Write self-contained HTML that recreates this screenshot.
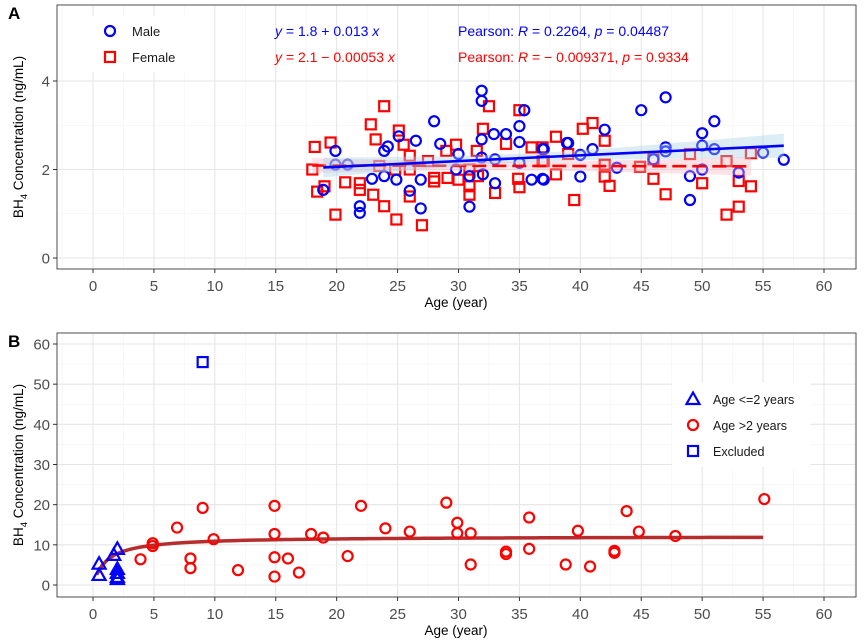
<!DOCTYPE html>
<html><head><meta charset="utf-8"><style>
html,body{margin:0;padding:0;background:#fff;}
svg{display:block;font-family:"Liberation Sans",Arial,sans-serif;}
</style></head><body>
<svg id="chart" width="865" height="644" viewBox="0 0 865 644" xmlns="http://www.w3.org/2000/svg"></svg>
<script>
// ---------- Panel A data ----------
const maleAge = [19.9,19.9,20.9,18.9,21.9,21.9,22.9,23.9,24.2,25.1,23.9,24.9,26.0,26.5,26.9,26.9,28.0,28.5,30.0,29.8,30.9,30.9,31.9,31.9,31.9,31.9,32.0,32.9,33.9,33.0,33.0,35.0,35.0,35.0,35.4,36.0,36.9,36.9,38.9,37.0,37.0,39.0,40.0,40.0,42.0,41.0,43.0,45.0,47.0,47.0,47.0,46.0,49.0,49.0,50.0,50.0,50.0,51.0,51.0,53.0,55.0,56.7];
const maleVal = [2.42,2.11,2.11,1.54,1.17,1.02,1.79,2.42,2.52,2.75,1.85,1.77,1.52,2.65,1.77,1.12,3.09,2.58,2.35,2.00,1.16,1.85,3.78,3.55,2.68,2.27,1.89,2.80,2.80,2.23,1.69,2.98,2.62,2.15,3.34,1.77,1.79,2.46,2.60,2.46,1.77,2.60,2.33,1.84,2.90,2.46,2.04,3.34,3.63,2.50,2.41,2.23,1.85,1.31,2.82,2.54,2.00,3.09,2.46,1.93,2.38,2.22];
const femaleAge = [18.2,19.5,18.0,18.4,19.0,19.9,20.7,21.9,21.9,22.8,23.2,23.9,23.0,23.9,24.9,25.1,25.5,26.0,26.0,26.0,27.0,28.0,28.0,29.1,29.0,29.8,30.0,30.9,30.9,31.6,31.5,32.0,32.5,33.9,34.9,35.0,35.0,36.0,36.9,38.0,38.0,33.0,30.9,23.5,24.8,27.5,36.9,37.0,39.5,40.2,41.0,42.0,42.0,42.0,42.4,44.9,46.0,46.0,47.0,49.0,50.0,52.0,52.0,53.0,53.0,54.0,54.0,39.0];
const femaleVal = [2.51,2.61,2.00,1.50,1.62,0.98,1.71,1.69,1.54,3.02,2.68,3.43,1.43,1.17,0.87,2.88,2.56,2.31,2.00,1.39,0.74,1.81,1.73,1.81,2.42,2.56,1.77,1.62,1.43,1.85,2.42,2.92,3.43,2.58,1.79,1.60,3.34,2.50,2.50,2.74,1.89,1.47,2.00,2.08,2.00,2.19,2.19,2.19,1.31,2.92,3.05,2.65,2.11,1.84,1.63,2.06,2.23,1.79,1.44,2.35,1.69,2.19,0.98,1.16,1.74,1.62,2.37,2.35];
const maleFit = [1.8, 0.013];     // intercept, slope
const femaleFit = [2.1, -0.00053];
const ticksXA = [0,5,10,15,20,25,30,35,40,45,50,55,60];
const ticksYA = [0,2,4];
// ---------- Panel B data ----------
const youngAge = [0.5,0.5,1.7,2.0,2.0,2.0,2.0,2.0];
const youngVal = [5.3,2.5,7.5,9.0,4.0,3.0,2.0,1.5];
const olderAge = [3.9,4.9,4.9,6.9,8.0,8.0,9.0,9.9,11.9,14.9,14.9,14.9,14.9,16.0,16.9,17.9,18.9,20.9,22.0,24.0,26.0,29.0,29.9,29.9,31.0,31.0,33.9,33.9,35.8,35.8,38.8,39.8,40.8,42.8,42.8,43.8,44.8,47.8,55.1];
const olderVal = [6.4,10.4,9.7,14.3,6.6,4.2,19.2,11.4,3.7,19.7,12.7,6.9,2.1,6.6,3.1,12.7,11.8,7.2,19.7,14.1,13.3,20.5,15.5,12.9,12.9,5.1,8.3,7.7,16.8,9.0,5.1,13.5,4.6,8.5,8.0,18.4,13.3,12.2,21.4];
const excludedAge = [9.0];
const excludedVal = [55.5];
const curveParams = [12.1, 1.1]; // saturating fit Vmax, K
const ticksXB = [0,5,10,15,20,25,30,35,40,45,50,55,60];
const ticksYB = [0,10,20,30,40,50,60];

const svg = document.getElementById('chart');
const NS = 'http://www.w3.org/2000/svg';
function mk(tag, attrs, parent){
  const e = document.createElementNS(NS, tag);
  for (const k in attrs) e.setAttribute(k, attrs[k]);
  (parent||svg).appendChild(e);
  return e;
}
function lin(d0,d1,r0,r1){ return v => r0 + (v-d0)*(r1-r0)/(d1-d0); }

function panel(o){
  const g = mk('g', {});
  
  
  const X = lin(0,60,93,824);
  const Y = lin(o.y0v, o.y1v, o.y0p, o.y1p);
  const L=57,R=856,T=o.top,B=o.bottom;
  mk('rect',{x:L,y:T,width:R-L,height:B-T,fill:'#fff'},g);
  // minor grid
  for (let v=-2.5; v<=62.5; v+=5){ const x=X(v); if(x>L&&x<R) mk('line',{x1:x,x2:x,y1:T,y2:B,stroke:'#f2f2f2','stroke-width':0.6},g); }
  for (let i=0;i<o.yt.length-1;i++){ const y=Y((o.yt[i]+o.yt[i+1])/2); mk('line',{x1:L,x2:R,y1:y,y2:y,stroke:'#f2f2f2','stroke-width':0.6},g); }
  // major grid
  o.xt.forEach(v=>{ const x=X(v); mk('line',{x1:x,x2:x,y1:T,y2:B,stroke:'#e6e6e6','stroke-width':1.1},g); });
  o.yt.forEach(v=>{ const y=Y(v); mk('line',{x1:L,x2:R,y1:y,y2:y,stroke:'#e6e6e6','stroke-width':1.1},g); });
  mk('rect',{x:L,y:T,width:R-L,height:B-T,fill:'none',stroke:'#4d4d4d','stroke-width':1},g);
  // ticks and labels
  o.xt.forEach(v=>{
    const x=X(v);
    mk('line',{x1:x,x2:x,y1:B,y2:B+4,stroke:'#333','stroke-width':1},g);
    const t=mk('text',{x:x,y:B+22,'text-anchor':'middle','font-size':15,fill:'#4d4d4d'},g);
    t.textContent=v;
    
    
  });
  o.yt.forEach(v=>{
    const y=Y(v);
    mk('line',{x1:L-4,x2:L,y1:y,y2:y,stroke:'#333','stroke-width':1},g);
    const t=mk('text',{x:L-7,y:y+5.5,'text-anchor':'end','font-size':15,fill:'#4d4d4d'},g);
    t.textContent=v;
    
    
  });
  const xt=mk('text',{x:456,y:B+38,'text-anchor':'middle','font-size':13.5,fill:'#000'},g);
  xt.textContent='Age (year)';
  
  
  const cy=(T+B)/2;
  const yt=mk('text',{x:0,y:0,'text-anchor':'middle','font-size':13.5,fill:'#000',transform:`translate(23,${cy}) rotate(-90)`},g);
  yt.innerHTML='BH<tspan font-size="9.5" dy="4">4</tspan><tspan dy="-4"> Concentration (ng/mL)</tspan>';
  
  
  const pl=mk('text',{x:8,y:T+14,'font-size':17,'font-weight':'bold',fill:'#000'},g);
  pl.textContent=o.letter;
  
  
  return {g,X,Y};
}
function circle(g,x,y,c,name){ const e=mk('circle',{cx:x,cy:y,r:5,fill:'none',stroke:c,'stroke-width':2.2},g);   return e;}
function square(g,x,y,c,name){ const e=mk('rect',{x:x-5,y:y-5,width:10,height:10,fill:'none',stroke:c,'stroke-width':2.2},g);   return e;}
function tri(g,x,y,c,name){ const e=mk('polygon',{points:`${x},${y-6.5} ${x-6.5},${y+5} ${x+6.5},${y+5}`,fill:'none',stroke:c,'stroke-width':2.2},g);   return e;}

// ===== Panel A =====
const A = panel({name:'panel-a',letter:'A',top:5,bottom:269,y0v:0,y1v:4,y0p:258,y1p:81,xt:ticksXA,yt:ticksYA});
function fitBand(fit, ages, color, fill, dashed, hw, nm){
  const mn=Math.min(...ages), mx=Math.max(...ages);
  const mean=ages.reduce((a,b)=>a+b,0)/ages.length;
  const up=[],lo=[];
  for(let i=0;i<=40;i++){
    const x=mn+(mx-mn)*i/40, y=fit[0]+fit[1]*x;
    const h=Math.sqrt(0.1*0.1+Math.pow(hw*(x-mean),2));
    up.push(A.X(x)+','+A.Y(y+h)); lo.unshift(A.X(x)+','+A.Y(y-h));
  }
  const b=mk('polygon',{points:up.concat(lo).join(' '),fill:fill,'fill-opacity':0.4},A.g);
  
  
  const l=mk('line',{x1:A.X(mn),y1:A.Y(fit[0]+fit[1]*mn),x2:A.X(mx),y2:A.Y(fit[0]+fit[1]*mx),stroke:color,'stroke-width':2.6},A.g);
  if(dashed) l.setAttribute('stroke-dasharray','14 6');
  
  
}
femaleAge.forEach((a,i)=>square(A.g,A.X(a),A.Y(femaleVal[i]),'#ff0000','female-point'));
maleAge.forEach((a,i)=>circle(A.g,A.X(a),A.Y(maleVal[i]),'#0000ff','male-point'));
fitBand(femaleFit,femaleAge,'#ff0000','#f4b6c0',true,0.009,'female');
fitBand(maleFit,maleAge,'#0000ff','#a9d3e8',false,0.012,'male');
// legend A
const legA=mk('g',{},A.g);


mk('rect',{x:88,y:16,width:100,height:56,fill:'#fff'},legA);
circle(legA,110,31,'#0000ff','legend-male-key');
square(legA,110,57,'#ff0000','legend-female-key');
let t=mk('text',{x:132,y:36,'font-size':13,fill:'#1a1a1a'},legA); t.textContent='Male';
t=mk('text',{x:132,y:62,'font-size':13,fill:'#1a1a1a'},legA); t.textContent='Female';
function eq(x,y,c,html,name){ const e=mk('text',{x:x,y:y,'font-size':14,fill:c},A.g); e.innerHTML=html;   }
eq(275,36,'#0000ff','<tspan font-style="italic">y</tspan> = 1.8 + 0.013 <tspan font-style="italic">x</tspan>','male-equation');
eq(275,62,'#ff0000','<tspan font-style="italic">y</tspan> = 2.1 − 0.00053 <tspan font-style="italic">x</tspan>','female-equation');
eq(458,36,'#0000ff','Pearson: <tspan font-style="italic">R</tspan> = 0.2264, <tspan font-style="italic">p</tspan> = 0.04487','male-correlation');
eq(458,62,'#ff0000','Pearson: <tspan font-style="italic">R</tspan> = − 0.009371, <tspan font-style="italic">p</tspan> = 0.9334','female-correlation');

// ===== Panel B =====
const Bp = panel({name:'panel-b',letter:'B',top:333,bottom:597,y0v:0,y1v:60,y0p:585,y1p:344,xt:ticksXB,yt:ticksYB});
const cpts=[];
for(let i=0;i<=120;i++){ const x=0.3+(55-0.3)*i/120; cpts.push(Bp.X(x)+','+Bp.Y(curveParams[0]*x/(curveParams[1]+x))); }
const cur=mk('polyline',{points:cpts.join(' '),fill:'none',stroke:'#b22222','stroke-width':3.5,'stroke-opacity':0.95},Bp.g);


olderAge.forEach((a,i)=>circle(Bp.g,Bp.X(a),Bp.Y(olderVal[i]),'#ff0000','older-point'));
youngAge.forEach((a,i)=>tri(Bp.g,Bp.X(a),Bp.Y(youngVal[i]),'#0000ff','young-point'));
excludedAge.forEach((a,i)=>square(Bp.g,Bp.X(a),Bp.Y(excludedVal[i]),'#0000ff','excluded-point'));
const legB=mk('g',{},Bp.g);


mk('rect',{x:672,y:383,width:138,height:84,fill:'#fff'},legB);
tri(legB,693,399,'#0000ff','legend-young-key');
circle(legB,693,425,'#ff0000','legend-older-key');
square(legB,693,451,'#0000ff','legend-excluded-key');
t=mk('text',{x:713,y:404,'font-size':12.5,fill:'#1a1a1a'},legB); t.textContent='Age <=2 years';
t=mk('text',{x:713,y:430,'font-size':12.5,fill:'#1a1a1a'},legB); t.textContent='Age >2 years';
t=mk('text',{x:713,y:456,'font-size':12.5,fill:'#1a1a1a'},legB); t.textContent='Excluded';
</script>
</body></html>
